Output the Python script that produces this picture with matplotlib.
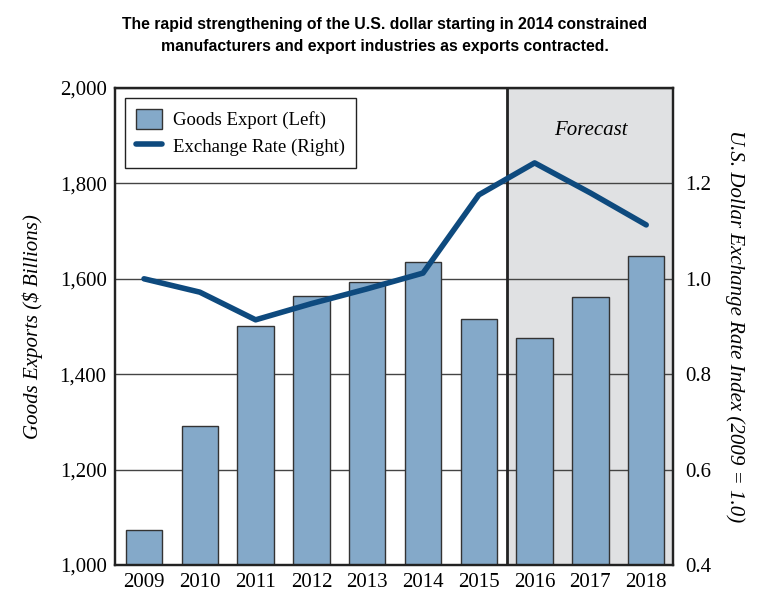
from matplotlib import pyplot as plt
import numpy as np

# data
years = ['2009', '2010', '2011', '2012', '2013', '2014', '2015', '2016', '2017', '2018']
goods_export = [1073, 1291, 1501, 1564, 1593, 1635, 1516, 1476, 1562, 1648]
exchange_rate = [1.00, 0.972, 0.914, 0.948, 0.979, 1.012, 1.176, 1.243, 1.180, 1.113]
forecast_start = 7  # index of first forecast year

serif = ['Liberation Serif', 'DejaVu Serif']

fig = plt.figure(figsize=(7.59, 5.92), dpi=100)
ax = fig.add_axes([115 / 759, 27 / 592, 558 / 759, 477 / 592])
x = np.arange(len(years))

ax.axvspan(forecast_start - 0.5, len(years) - 0.52, color='#e0e1e3', zorder=0)
ax.axvline(forecast_start - 0.5, color='#222222', linewidth=2, zorder=1)

bars = ax.bar(x, goods_export, width=0.65, color='#84a9c9', edgecolor='#333333',
              linewidth=1, zorder=2, label='Goods Export (Left)')

ax.set_ylim(1000, 2000)
ax.set_xlim(-0.52, len(years) - 0.52)
ax.set_yticks([1000, 1200, 1400, 1600, 1800, 2000])
ax.set_yticklabels(['1,000', '1,200', '1,400', '1,600', '1,800', '2,000'], family=serif, fontsize=15)
ax.set_xticks(x)
ax.set_xticklabels(years, family=serif, fontsize=15)
ax.tick_params(length=0, pad=6)
ax.grid(axis='y', color='#444444', linewidth=1, zorder=1)
ax.set_axisbelow(True)
for s in ax.spines.values():
    s.set_linewidth(1.6)
    s.set_color('#222222')
ax.set_ylabel('Goods Exports ($ Billions)', family=serif, style='italic', fontsize=15, labelpad=12)

ax2 = ax.twinx()
line, = ax2.plot(x, exchange_rate, color='#0e4a7e', linewidth=4, solid_capstyle='round',
                 label='Exchange Rate (Right)', zorder=3)
ax2.set_ylim(0.4, 1.4)
ax2.set_yticks([0.4, 0.6, 0.8, 1.0, 1.2])
ax2.set_yticklabels(['0.4', '0.6', '0.8', '1.0', '1.2'], family=serif, fontsize=15)
ax2.tick_params(length=0, pad=9)
for s in ax2.spines.values():
    s.set_linewidth(1.6)
    s.set_color('#222222')
ax2.set_ylabel('U.S. Dollar Exchange Rate Index (2009 = 1.0)', family=serif, style='italic',
               fontsize=15, rotation=270, labelpad=24)

ax2.text(8.0, 1.31, 'Forecast', family=serif, style='italic', fontsize=15, ha='center', va='center')

leg = ax2.legend([bars, line], ['Goods Export (Left)', 'Exchange Rate (Right)'],
                 loc='upper left', bbox_to_anchor=(0.018, 0.98), fancybox=False,
                 edgecolor='#222222', framealpha=1, prop={'family': serif, 'size': 13.5},
                 borderpad=0.6, handlelength=1.35, handleheight=1.3, handletextpad=0.6,
                 labelspacing=0.35, borderaxespad=0)
leg.get_frame().set_linewidth(1)

fig.text(0.507, 0.972, 'The rapid strengthening of the U.S. dollar starting in 2014 constrained\n'
         'manufacturers and export industries as exports contracted.',
         ha='center', va='top', fontsize=11.3, fontweight='bold',
         family=['Liberation Sans Narrow', 'Liberation Sans', 'DejaVu Sans'], linespacing=1.65)

plt.savefig('out.png', dpi=100)
